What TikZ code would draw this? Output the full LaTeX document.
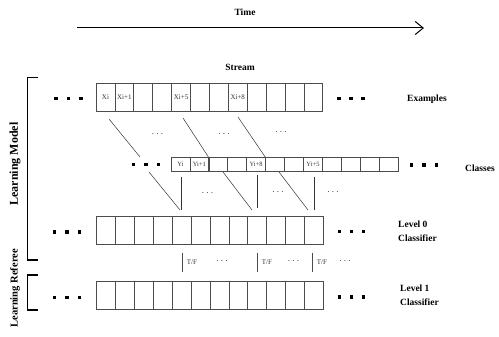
\documentclass[tikz,border=0pt]{standalone}
\usepackage{fontspec}
\setmainfont{Liberation Serif}
\usetikzlibrary{arrows.meta}

\begin{document}
\begin{tikzpicture}[x=1pt,y=-1pt,
  cell/.style={draw=black!70, line width=0.7pt, minimum width=18.9pt, inner sep=0pt,
               font=\fontsize{7}{8}\selectfont, text=black!80},
  bigcell/.style={cell, minimum height=28pt},
  smallcell/.style={cell, minimum height=13.5pt, font=\fontsize{6.5}{7}\selectfont},
  sq/.style={fill=black, minimum size=3.6pt, inner sep=0pt},
  lbl/.style={font=\bfseries\fontsize{9.5}{11}\selectfont, inner sep=0pt},
  sidelbl/.style={font=\bfseries\fontsize{12}{13}\selectfont, inner sep=0pt, rotate=90},
  gdots/.style={font=\fontsize{10}{11}\selectfont, text=black!80, inner sep=0pt},
  link/.style={draw=black!80, line width=0.5pt},
  bracket/.style={draw=black, line width=1.1pt}]

\useasboundingbox (0,0) rectangle (499,337);

% time axis
\node[lbl] (time) at (245,12) {Time};
\coordinate (t0) at (77,28);
\coordinate (t1) at (424,28);
\draw[line width=1pt, -{Straight Barb[length=8pt,width=13pt,line width=1pt]}] (t0) -- (t1);
\node[lbl] (stream) at (240,67) {Stream};

% examples row
\foreach \i/\t in {1/Xi,2/Xi+1,3/,4/,5/Xi+5,6/,7/,8/Xi+8,9/,10/,11/,12/}
  \node[bigcell] (e\i) at ({96+18.9*(\i-0.5)},97.5) {\t};
% classes row
\foreach \i/\t in {1/Yi,2/Yi+1,3/,4/,5/Yi+8,6/,7/,8/Yi+5,9/,10/,11/,12/}
  \node[smallcell] (c\i) at ({171+18.93*(\i-0.5)},164.25) {\t};
% level 0 and level 1 rows
\foreach \i in {1,...,12}{
  \node[bigcell] (a\i) at ({96.7+18.88*(\i-0.5)},230.7) {};
  \node[bigcell] (b\i) at ({96.7+18.88*(\i-0.5)},294.9) {};
}

% square ellipsis markers
\foreach \j/\x/\y in {1/56/98.5,2/68.5/98.5,3/81/98.5,
                      4/339/98.5,5/351/98.5,6/363/98.5,
                      7/133.5/164.5,8/146/164.5,9/158.5/164.5,
                      10/411.5/165,11/424/165,12/436.5/165,
                      13/54.5/232,14/67/232,15/79.5/232,
                      16/339.5/231.5,17/351.5/231.5,18/363.5/231.5,
                      19/54.5/297.5,20/67/297.5,21/79.5/297.5,
                      22/339.5/297,23/351.5/297,24/363.5/297}
  \node[sq] (s\j) at (\x,\y) {};

% row labels
\node[lbl] (lex) at (427,99) {Examples};
\node[lbl] (lcl) at (480,168) {Classes};
\node[lbl, align=left, anchor=west] (l0) at (398,231.5) {Level 0\\[3pt]Classifier};
\node[lbl, align=left, anchor=west] (l1) at (400,295) {Level 1\\[3pt]Classifier};

% examples to classes
\coordinate (p1) at (109,119);   \coordinate (q1) at (140,157);
\coordinate (p2) at (183,118);   \coordinate (q2) at (c3.north west);
\coordinate (p3) at (238,117);   \coordinate (q3) at (c6.north west);
\draw[link] (p1) -- (q1);
\draw[link] (p2) -- (q2);
\draw[link] (p3) -- (q3);

% classes to level 0
\coordinate (u1) at (149,172);   \coordinate (v1) at (180,210);
\coordinate (u2) at (223,172);   \coordinate (v2) at (252,210);
\coordinate (u3) at (279,172);   \coordinate (v3) at (308,210);
\draw[link] (u1) -- (v1);
\draw[link] (u2) -- (v2);
\draw[link] (u3) -- (v3);
\coordinate (w1) at (181,177);   \coordinate (z1) at (181,210);
\coordinate (w2) at (257.3,175); \coordinate (z2) at (257.3,208.5);
\coordinate (w3) at (314.3,177.5); \coordinate (z3) at (314.3,210);
\draw[link, line width=0.7pt] (w1) -- (z1);
\draw[link, line width=0.7pt] (w2) -- (z2);
\draw[link, line width=0.7pt] (w3) -- (z3);

% ellipses between rows
\node[gdots] (d1) at (157.5,134) {$\cdots$};
\node[gdots] (d2) at (224,134) {$\cdots$};
\node[gdots] (d3) at (281,132.5) {$\cdots$};
\node[gdots] (d4) at (207.5,193) {$\cdots$};
\node[gdots] (d5) at (278,192.5) {$\cdots$};
\node[gdots] (d6) at (333,192.5) {$\cdots$};

% T/F feedback between level 0 and level 1
\foreach \k/\x/\dx in {1/182.7/222,2/257.7/293.5,3/312.7/345}{
  \coordinate (f\k) at (\x,252.5);
  \coordinate (g\k) at (\x,271.5);
  \draw[draw=black!70, line width=1pt] (f\k) -- (g\k);
  \node[font=\fontsize{7}{8}\selectfont, text=black!80, anchor=west, inner sep=0pt] (tf\k) at (\x+4,262) {T/F};
  \node[gdots] (td\k) at (\dx,261.5) {$\cdots$};
}

% side brackets
\coordinate (m0) at (38,77.5);  \coordinate (m1) at (27.7,77.5);
\coordinate (m2) at (27.7,260); \coordinate (m3) at (38,260);
\draw[bracket] (m0) -- (m1) -- (m2) -- (m3);
\coordinate (r0) at (38,275);  \coordinate (r1) at (27.7,275);
\coordinate (r2) at (27.7,310); \coordinate (r3) at (38,310);
\draw[bracket] (r0) -- (r1) -- (r2) -- (r3);
\node[sidelbl] (lm) at (15,164) {Learning Model};
\node[sidelbl, anchor=east, font=\bfseries\fontsize{10.5}{12}\selectfont] (lr) at (15,249) {Learning Referee};
\end{tikzpicture}
\end{document}
